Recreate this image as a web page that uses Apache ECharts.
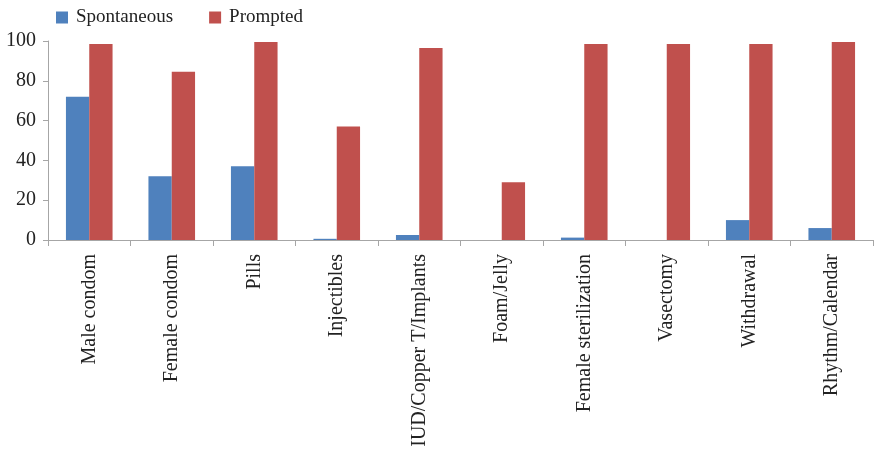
<!DOCTYPE html>
<html><head><meta charset="utf-8">
<script src="https://cdn.jsdelivr.net/npm/echarts@6/dist/echarts.min.js"></script>
<style>html,body{margin:0;padding:0;background:#fff}#c{width:874px;height:452px}</style>
</head><body><div id="c"></div>
<script>
var categories = ["Male condom","Female condom","Pills","Injectibles","IUD/Copper T/Implants","Foam/Jelly","Female sterilization","Vasectomy","Withdrawal","Rhythm/Calendar"];
var spontaneous = [72, 32, 37, 0.6, 2.5, 0, 1.2, 0, 10, 6];
var prompted = [98.5, 84.5, 99.5, 57, 96.5, 29, 98.5, 98.5, 98.5, 99.5];
var yTicks = [0, 20, 40, 60, 80, 100];

var font = "'Liberation Serif', 'Times New Roman', serif";
var chart = echarts.init(document.getElementById('c'));
chart.setOption({
  animation: false,
  textStyle: {fontFamily: font},
  legend: {
    left: 51, top: 3, itemWidth: 12, itemHeight: 12, itemGap: 36,
    icon: 'rect',
    textStyle: {fontFamily: font, fontSize: 19, color: '#222', padding: [0, 0, 0, 3]},
    data: ['Spontaneous', 'Prompted']
  },
  grid: {left: 48, right: 1, top: 41, bottom: 212, containLabel: false},
  xAxis: {
    type: 'category', data: categories,
    axisLine: {lineStyle: {color: '#a6a6a6', width: 1}},
    axisTick: {show: true, length: 6, lineStyle: {color: '#a6a6a6'}},
    axisLabel: {rotate: 90, fontFamily: font, fontSize: 20, color: '#222', margin: 14, interval: 0}
  },
  yAxis: {
    type: 'value', min: yTicks[0], max: yTicks[yTicks.length-1], interval: 20,
    axisLine: {show: true, lineStyle: {color: '#a6a6a6'}},
    axisTick: {show: true, length: 5, lineStyle: {color: '#a6a6a6'}},
    splitLine: {show: false},
    axisLabel: {fontFamily: font, fontSize: 20, color: '#222', margin: 12}
  },
  series: [
    {name: 'Spontaneous', type: 'bar', data: spontaneous, barGap: '0%', barCategoryGap: '43.5%', itemStyle: {color: '#4F81BD'}},
    {name: 'Prompted', type: 'bar', data: prompted, barGap: '0%', barCategoryGap: '43.5%', itemStyle: {color: '#C0504D'}}
  ]
});
</script></body></html>
